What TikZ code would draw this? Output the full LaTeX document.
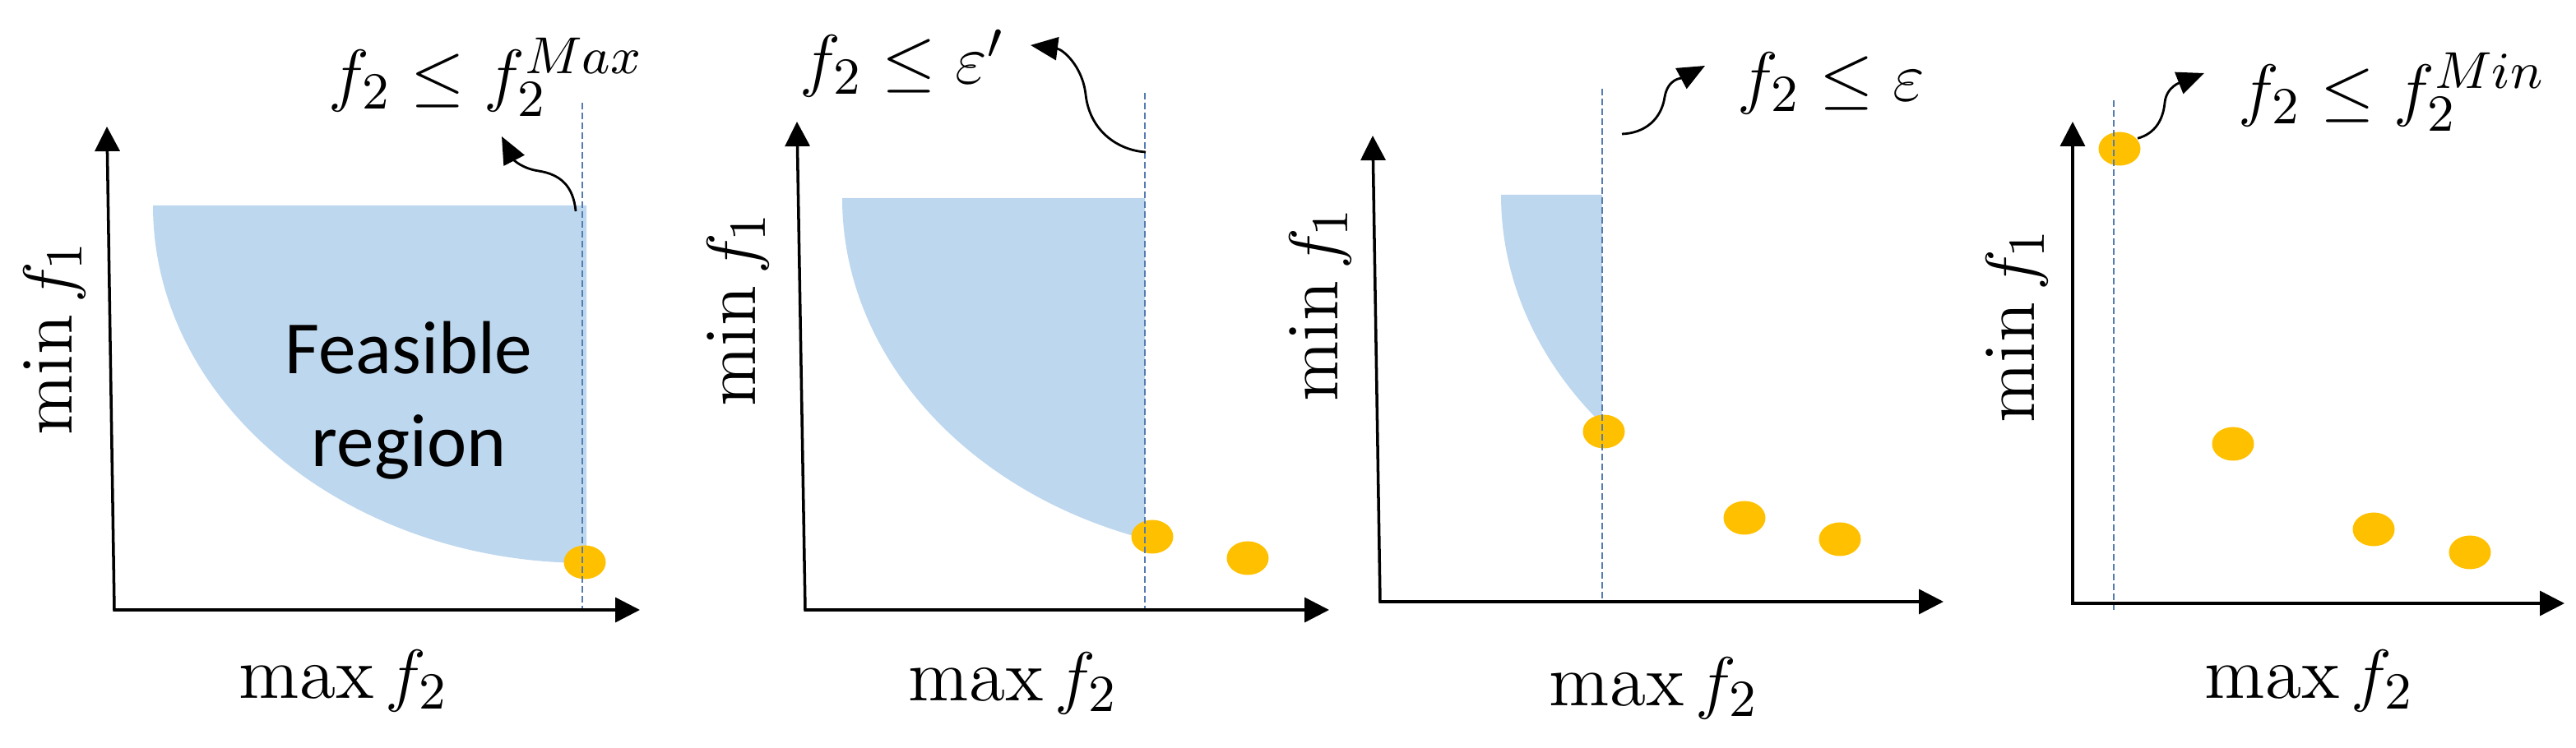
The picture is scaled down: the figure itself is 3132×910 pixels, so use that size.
\documentclass[tikz,border=0pt]{standalone}
\usepackage{fontspec}
\newfontfamily\calibri{Carlito}
\usetikzlibrary{arrows.meta,shapes.geometric}
\definecolor{regionblue}{RGB}{189,215,238}
\definecolor{dotyellow}{RGB}{255,192,0}
\definecolor{cutblue}{RGB}{84,124,176}
% #1 left x, #2 top y, #3 x of the cut
\newcommand{\feasregion}[3]{%
	\begin{scope}
		\clip (#1-5,#2) rectangle (#3,#2+500);
		\fill[regionblue] (#1,#2) .. controls (#1,#2+240) and (#1+236,#2+435) .. (#1+528,#2+435) -- (#1+528,#2) -- cycle;
	\end{scope}}

\begin{document}
\begin{tikzpicture}[x=0.05mm, y=-0.05mm,
		axis/.style={line width=0.5pt, {Triangle[length=1.5mm,width=1.5mm]}-{Triangle[length=1.5mm,width=1.5mm]}},
		cut/.style={cutblue, line width=0.3pt, dash pattern=on 0.4mm off 0.2mm},
		hint/.style={line width=0.4pt, -{Triangle[length=1.65mm,width=1.4mm]}},
		dot/.style={ellipse, fill=dotyellow, minimum width=2.55mm, minimum height=2.05mm, inner sep=0pt},
		lbl/.style={font=\fontsize{12.8}{15}\selectfont, inner sep=0pt}]
		\useasboundingbox (0,0) rectangle (3132,910);

		\feasregion{186}{250}{713}
		\feasregion{1024}{241}{1392}
		\feasregion{1825}{237}{1948}

		\node[dot] (D11) at (711,684) {};
		\node[dot] (D21) at (1401,653) {};
		\node[dot] (D22) at (1517,679) {};
		\node[dot] (D31) at (1950,525) {};
		\node[dot] (D32) at (2121,630) {};
		\node[dot] (D33) at (2237,656) {};
		\node[dot] (D41) at (2577,181) {};
		\node[dot] (D42) at (2715,540) {};
		\node[dot] (D43) at (2886,644) {};
		\node[dot] (D44) at (3003,672) {};

		\draw[cut] (708,125) -- (708,743);
		\draw[cut] (1392,113) -- (1392,740);
		\draw[cut] (1948,108) -- (1948,728);
		\draw[cut] (2570,122) -- (2570,743);

		\coordinate (Y1) at (130,154);
		\coordinate (O1) at (139,742);
		\coordinate (X1) at (778,742);
		\coordinate (Y2) at (969,148);
		\coordinate (O2) at (979,742);
		\coordinate (X2) at (1616,742);
		\coordinate (Y3) at (1669,165);
		\coordinate (O3) at (1678,732);
		\coordinate (X3) at (2363,732);
		\coordinate (Y4) at (2520,148);
		\coordinate (O4) at (2520,734);
		\coordinate (X4) at (3118,734);
		\draw[axis] (Y1) -- (O1) -- (X1);
		\draw[axis] (Y2) -- (O2) -- (X2);
		\draw[axis] (Y3) -- (O3) -- (X3);
		\draw[axis] (Y4) -- (O4) -- (X4);

		\node[lbl, rotate=90] (L1) at (66,411) {$\min f_1$};
		\node[lbl, rotate=90] (L2) at (897,376) {$\min f_1$};
		\node[lbl, rotate=90] (L3) at (1605,370) {$\min f_1$};
		\node[lbl, rotate=90] (L4) at (2452,396) {$\min f_1$};
		\node[lbl, anchor=base] (M1) at (418,850) {$\max f_2$};
		\node[lbl, anchor=base] (M2) at (1232,853) {$\max f_2$};
		\node[lbl, anchor=base] (M3) at (2011,859) {$\max f_2$};
		\node[lbl, anchor=base] (M4) at (2808,850) {$\max f_2$};

		\node[font=\calibri\fontsize{13}{16}\selectfont, align=center] (F) at (497,487) {Feasible\\region};

		\node[lbl, anchor=base west] (C1) at (398,120) {$f_2 \le f_2^{Max}$};
		\node[lbl, anchor=base west] (C2) at (971,102) {$f_2 \le \varepsilon'$};
		\node[lbl, anchor=base west] (C3) at (2111,123) {$f_2 \le \varepsilon$};
		\node[lbl, anchor=base west] (C4) at (2720,138) {$f_2 \le f_2^{Min}$};

		\coordinate (A1) at (700,257);
		\coordinate (B1) at (610,166);
		\coordinate (A2) at (1393,185);
		\coordinate (B2) at (1253,55);
		\coordinate (A3) at (1972,163);
		\coordinate (B3) at (2073,80);
		\coordinate (B4) at (2680,89);
		\draw[hint] (A1) .. controls (697,225) and (680,212) .. (655,208) .. controls (635,205) and (625,195) .. (B1);
		\draw[hint] (A2) .. controls (1360,183) and (1325,160) .. (1320,115) .. controls (1316,80) and (1292,60) .. (B2);
		\draw[hint] (A3) .. controls (2000,162) and (2020,145) .. (2024,118) .. controls (2028,95) and (2045,95) .. (B3);
		\draw[hint] (D41.30) .. controls +(22,-6) and (2630,145) .. (2632,125) .. controls (2634,105) and (2652,100) .. (B4);
	\end{tikzpicture}
\end{document}
